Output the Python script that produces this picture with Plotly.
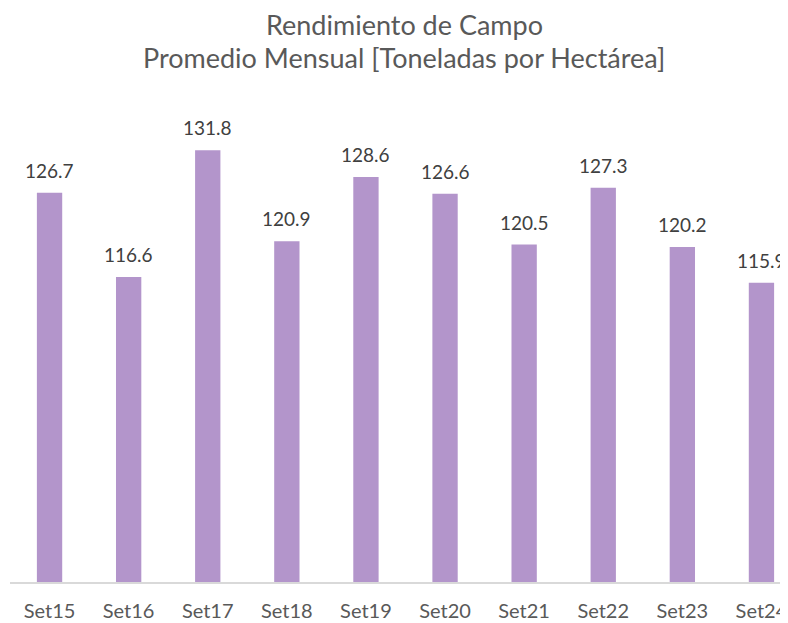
import plotly.graph_objects as go

categories = ["Set15", "Set16", "Set17", "Set18", "Set19", "Set20", "Set21", "Set22", "Set23", "Set24"]
values = [126.7, 116.6, 131.8, 120.9, 128.6, 126.6, 120.5, 127.3, 120.2, 115.9]
title_line1 = "Rendimiento de Campo"
title_line2 = "Promedio Mensual [Toneladas por Hectárea]"

FONT = "Lato"
BAR_COLOR = "#B395CB"

# page body has an 8px margin, so the figure is sized to fill the rest of the window
W, H = 780, 615
M_L, M_R, M_T, M_B = 2, 0, 74, 41
plot_w = W - M_L - M_R
plot_h = H - M_T - M_B

fig = go.Figure()
fig.add_trace(go.Bar(
    x=list(range(len(categories))),
    y=values,
    marker=dict(color=BAR_COLOR, line=dict(width=0)),
    width=0.32,
    hoverinfo="skip",
))

annotations = []
for i, v in enumerate(values):
    annotations.append(dict(
        x=i, y=v, xref="x", yref="y", text=f"{v:.1f}", showarrow=False,
        yanchor="bottom", yshift=9, font=dict(family=FONT, size=19, color="#404040"),
    ))
# title lines placed by pixel centre (figure coords)
for txt, py in [(title_line1, 17), (title_line2, 50)]:
    annotations.append(dict(
        x=(396 - M_L) / plot_w, y=(H - M_B - py) / plot_h, xref="paper", yref="paper",
        xanchor="center", yanchor="middle", text=txt, showarrow=False,
        font=dict(family=FONT, size=27, color="#595959"),
    ))

fig.update_layout(
    width=W,
    height=H,
    margin=dict(l=M_L, r=M_R, t=M_T, b=M_B),
    paper_bgcolor="white",
    plot_bgcolor="white",
    showlegend=False,
    annotations=annotations,
)

fig.update_xaxes(
    range=[-0.5, -0.5 + plot_w / 79.1],
    tickmode="array",
    tickvals=list(range(len(categories))),
    ticktext=categories,
    showline=True,
    linecolor="#D9D9D9",
    linewidth=2,
    showgrid=False,
    zeroline=False,
    ticks="",
    ticklabelstandoff=10,
    tickfont=dict(family=FONT, size=20, color="#595959"),
    fixedrange=True,
)
fig.update_yaxes(
    range=[80, 140],
    visible=False,
    showgrid=False,
    fixedrange=True,
)

fig.write_html("out.html")
